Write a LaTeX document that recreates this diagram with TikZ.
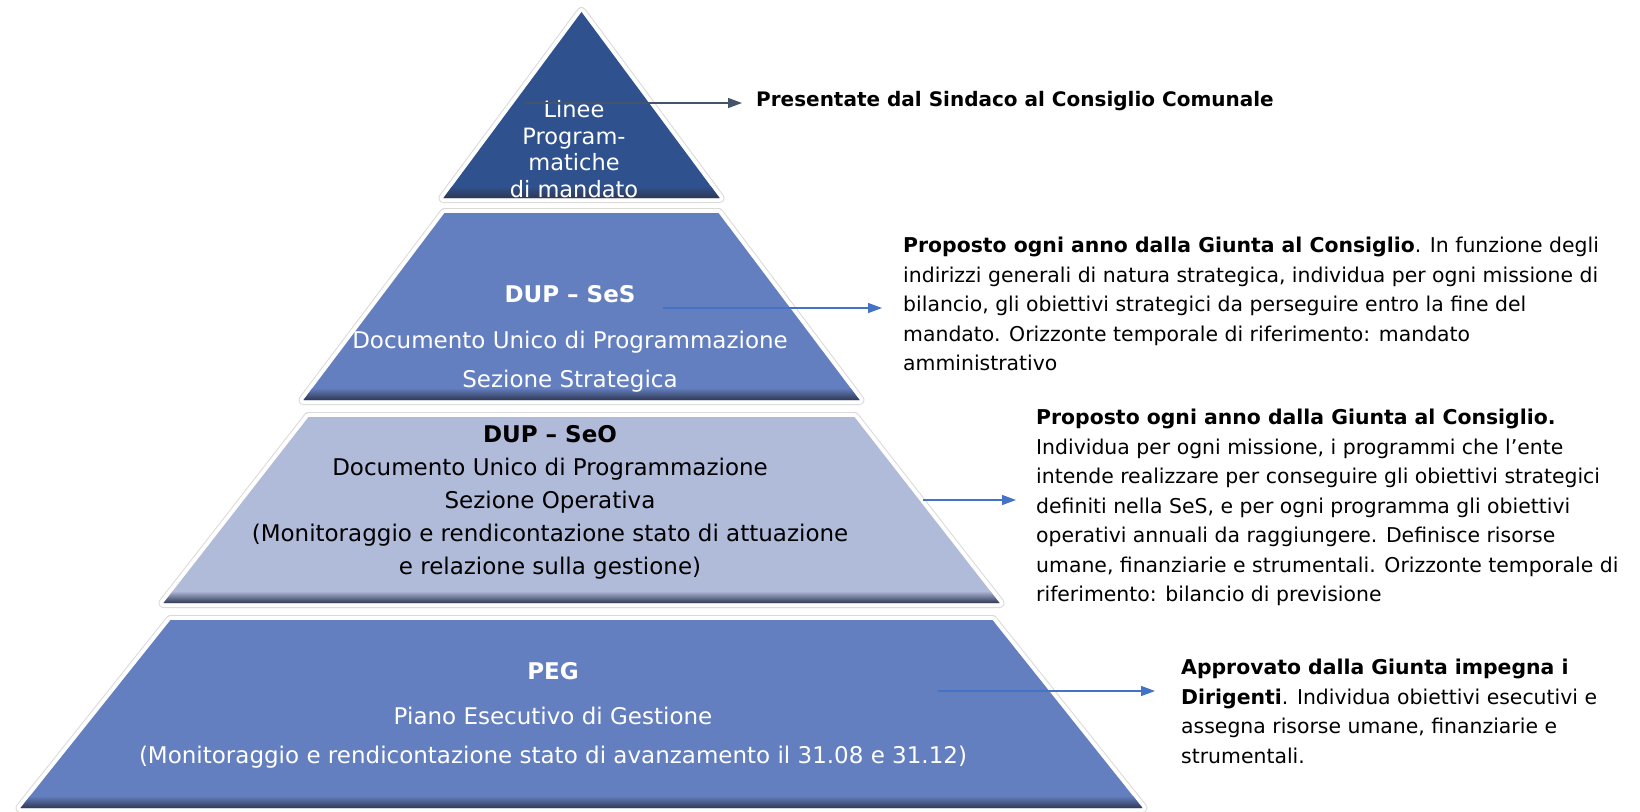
\documentclass[tikz,border=0pt]{standalone}
\usepackage{fontspec}
\setmainfont{DejaVu Sans}
\usetikzlibrary{arrows.meta}

\definecolor{apexblue}{RGB}{47,82,143}
\definecolor{midblue}{RGB}{100,127,191}
\definecolor{paleblue}{RGB}{176,186,217}
\definecolor{bevel}{RGB}{48,56,84}
\definecolor{arrowslate}{RGB}{68,84,106}
\definecolor{arrowblue}{RGB}{68,114,196}

\tikzset{
	halo/.style = {draw = gray!30, line width = 10pt, line join = round},
	gap/.style = {draw = white, line width = 8pt, line join = round},
	bandtext/.style = {align = center, inner sep = 0pt, font = \fontsize{23}{39}\selectfont},
	note/.style = {align = left, anchor = north west, inner sep = 0pt, font = \fontsize{20.4}{29.5}\selectfont},
	pointer/.style = {draw = arrowblue, line width = 1.3pt, -{Triangle[length = 14pt, width = 10pt]}}
}

\begin{document}
\begin{tikzpicture}[x = 1pt, y = -1pt]
	
		\useasboundingbox (0, 0) rectangle (1640, 811);
		
		% bands: top y / top half width / bottom y / bottom half width / colour
		\foreach \yt/\wt/\yb/\wb/\col in {12/0/198/138/apexblue, 213/137/400/278/midblue, 417/273/603/418/paleblue, 620/411/808/561/midblue}
		{
			\path[halo] (581.5 - \wt, \yt) -- (581.5 + \wt, \yt) -- (581.5 + \wb, \yb) -- (581.5 - \wb, \yb) -- cycle;
			\path[gap] (581.5 - \wt, \yt) -- (581.5 + \wt, \yt) -- (581.5 + \wb, \yb) -- (581.5 - \wb, \yb) -- cycle;
			\fill[\col] (581.5 - \wt, \yt) -- (581.5 + \wt, \yt) -- (581.5 + \wb, \yb) -- (581.5 - \wb, \yb) -- cycle;
			\begin{scope}
				\clip (581.5 - \wt, \yt) -- (581.5 + \wt, \yt) -- (581.5 + \wb, \yb) -- (581.5 - \wb, \yb) -- cycle;
				\shade[top color = \col, bottom color = bevel] (0, \yb - 12) rectangle (1640, \yb);
			\end{scope}
		}
		
		\node[bandtext, text = white, font = \fontsize{22.5}{26.5}\selectfont] (linee) at (574, 149) {Linee\\Program-\\matiche\\di mandato};
		\node[bandtext, text = white] (ses) at (570, 339) {\textbf{DUP – SeS}\\[7pt]Documento Unico di Programmazione\\Sezione Strategica};
		\node[bandtext, font = \fontsize{23}{33}\selectfont] (seo) at (550, 502) {\textbf{DUP – SeO}\\Documento Unico di Programmazione\\Sezione Operativa\\(Monitoraggio e rendicontazione stato di attuazione\\e relazione sulla gestione)};
		\node[bandtext, text = white] (peg) at (553, 715) {\textbf{PEG}\\[6pt]Piano Esecutivo di Gestione\\(Monitoraggio e rendicontazione stato di avanzamento il 31.08 e 31.12)};
		
		\node[note, anchor = west, font = \bfseries\fontsize{20}{24}\selectfont] (presentate) at (756, 101) {Presentate dal Sindaco al Consiglio Comunale};
		\node[note] (ses note) at (903, 237) {\textbf{Proposto ogni anno dalla Giunta al Consiglio}. In funzione degli\\indirizzi generali di natura strategica, individua per ogni missione di\\bilancio, gli obiettivi strategici da perseguire entro la fine del\\mandato. Orizzonte temporale di riferimento: mandato\\amministrativo};
		\node[note] (seo note) at (1036, 409) {\textbf{Proposto ogni anno dalla Giunta al Consiglio.}\\Individua per ogni missione, i programmi che l’ente\\intende realizzare per conseguire gli obiettivi strategici\\definiti nella SeS, e per ogni programma gli obiettivi\\operativi annuali da raggiungere. Definisce risorse\\umane, finanziarie e strumentali. Orizzonte temporale di\\riferimento: bilancio di previsione};
		\node[note] (peg note) at (1181, 659) {\textbf{Approvato dalla Giunta impegna i}\\\textbf{Dirigenti}. Individua obiettivi esecutivi e\\assegna risorse umane, finanziarie e\\strumentali.};
		
		\coordinate (linee from) at (524, 103);
		\coordinate (ses from) at (663, 308);
		\coordinate (seo from) at (923, 500);
		\coordinate (peg from) at (938, 691);
		
		\draw[pointer, draw = arrowslate, shorten > = 14pt] (linee from) -- (linee from -| presentate.west);
		\draw[pointer, shorten > = 21pt] (ses from) -- (ses from -| ses note.west);
		\draw[pointer, shorten > = 20pt] (seo from) -- (seo from -| seo note.west);
		\draw[pointer, shorten > = 26pt] (peg from) -- (peg from -| peg note.west);
		
	\end{tikzpicture}
\end{document}
